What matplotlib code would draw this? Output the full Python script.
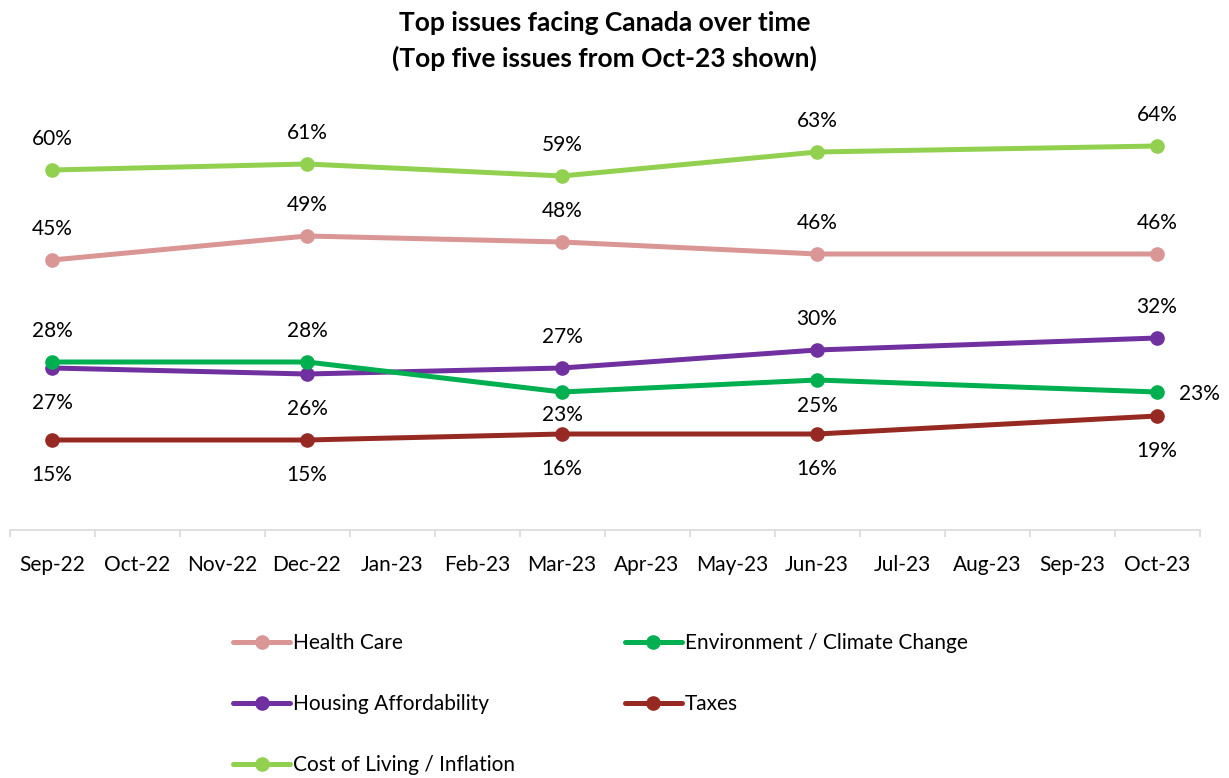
import matplotlib
matplotlib.use('Agg')
import matplotlib.pyplot as plt
from matplotlib.ticker import FixedLocator

plt.rcParams['font.family'] = ['Lato', 'DejaVu Sans']

months = ['Sep-22', 'Oct-22', 'Nov-22', 'Dec-22', 'Jan-23', 'Feb-23', 'Mar-23',
          'Apr-23', 'May-23', 'Jun-23', 'Jul-23', 'Aug-23', 'Sep-23', 'Oct-23']
survey_months = ['Sep-22', 'Dec-22', 'Mar-23', 'Jun-23', 'Oct-23']

health_care = [45, 49, 48, 46, 46]
environment = [28, 28, 23, 25, 23]
housing = [27, 26, 27, 30, 32]
taxes = [15, 15, 16, 16, 19]
cost_of_living = [60, 61, 59, 63, 64]

# label offsets in pixels (dx, dy), negative dy = below the point
UP, DOWN = (0, 31), (0, -35)
series = [
    ('Health Care', health_care, '#D99694', [UP] * 5),
    ('Housing Affordability', housing, '#7030A0', [DOWN, DOWN, UP, UP, UP]),
    ('Cost of Living / Inflation', cost_of_living, '#92D050', [UP] * 5),
    ('Environment / Climate Change', environment, '#00B050',
     [UP, UP, (0, -23), (0, -26), (42, -2)]),
    ('Taxes', taxes, '#962A22', [DOWN] * 5),
]

fig = plt.figure(figsize=(12.29, 7.78), dpi=100)
ax = fig.add_axes([9.5 / 1229, 248 / 778, 1190 / 1229, 420 / 778])

x = [months.index(m) for m in survey_months]
handles = []
for name, vals, color, offs in series:
    line, = ax.plot(x, vals, color=color, lw=3.6, marker='o', ms=9.5,
                    solid_capstyle='round', label=name)
    handles.append(line)
    for xi, v, (dx, dy) in zip(x, vals, offs):
        ax.annotate(f'{v}%', (xi, v), xytext=(dx, dy), textcoords='offset pixels',
                    ha='center', va='center', fontsize=15, color='black')

ax.set_xlim(-0.5, len(months) - 0.5)
ax.set_ylim(0, 70)
for s in ['left', 'right', 'top']:
    ax.spines[s].set_visible(False)
ax.spines['bottom'].set_color('#D9D9D9')
ax.spines['bottom'].set_linewidth(1.2)
ax.set_yticks([])
ax.set_xticks(range(len(months)))
ax.set_xticklabels(months, fontsize=15)
ax.tick_params(axis='x', which='major', length=0, pad=18)
ax.xaxis.set_minor_locator(FixedLocator([i - 0.5 for i in range(len(months) + 1)]))
ax.tick_params(axis='x', which='minor', length=5, width=1.2, color='#D9D9D9')

fig.text(604.5 / 1229, 1 - 41 / 778,
         'Top issues facing Canada over time\n(Top five issues from Oct-23 shown)',
         ha='center', va='center', fontsize=19, fontweight='bold', linespacing=1.5)

fig.legend(handles=handles, loc='upper left', bbox_to_anchor=(233 / 1229, 1 - 633 / 778),
           ncol=2, frameon=False, fontsize=15, handlelength=2.75, handletextpad=0.15,
           columnspacing=5.25, labelspacing=1.97, borderpad=0, borderaxespad=0)

fig.savefig('out.png', dpi=100)
